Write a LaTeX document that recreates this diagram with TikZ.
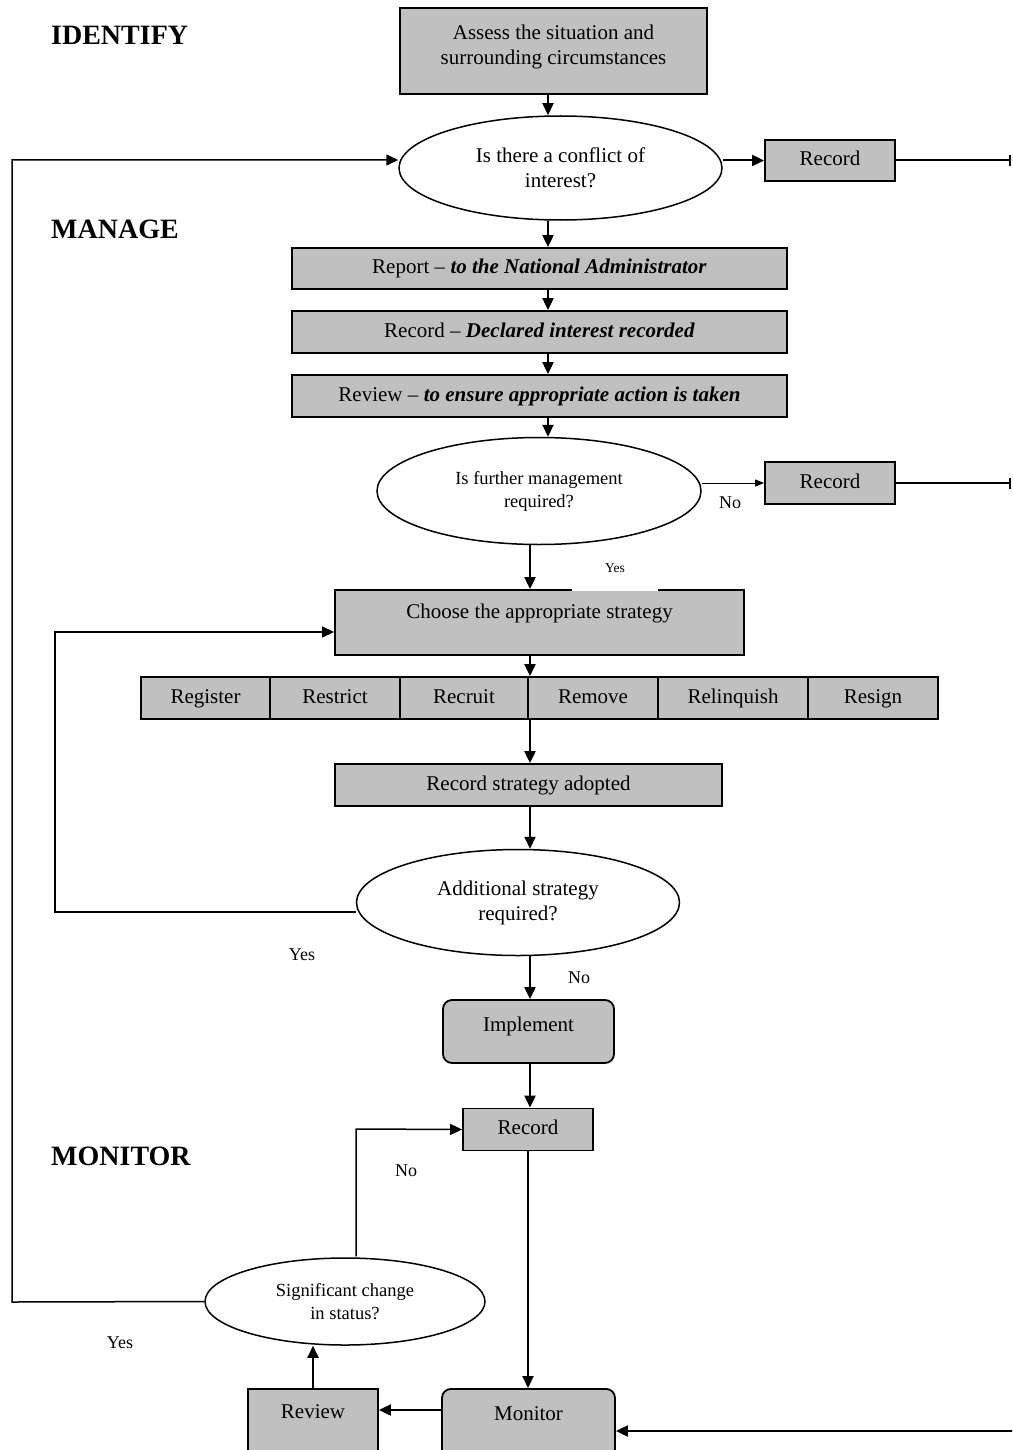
\documentclass[tikz,border=0pt]{standalone}
\usepackage{fontspec}
\setmainfont{Liberation Serif}
\usetikzlibrary{shapes.geometric,arrows.meta}
\definecolor{boxgray}{RGB}{192,192,192}
\begin{document}
\begin{tikzpicture}[x=1pt,y=-1pt,
  box/.style={draw,line width=1.8pt,fill=boxgray,inner sep=0pt,align=center,text height=15pt,text depth=5pt,font=\fontsize{21}{25}\selectfont},
  rbox/.style={box,rounded corners=9pt},
  oval/.style={ellipse,draw,line width=1.5pt,fill=white,inner sep=0pt,align=center,font=\fontsize{21}{25}\selectfont},
  txt/.style={inner sep=0pt,align=center,font=\fontsize{21}{25}\selectfont},
  arr/.style={line width=2pt,-{Triangle[length=12pt,width=11pt]}},
  thinarr/.style={line width=1pt,-{Triangle[length=9pt,width=7pt]}},
  loop/.style={line width=1.5pt,-{Triangle[length=12pt,width=11pt]}},
  barend/.style={line width=2pt,-{Bar[width=11pt,line width=2.2pt]}},
  lbl/.style={inner sep=0pt,font=\fontsize{18}{22}\selectfont},
  head/.style={inner sep=0pt,anchor=west,font=\fontsize{28}{32}\selectfont\bfseries}
]
\useasboundingbox (0,0) rectangle (1012,1450);
\clip (0,0) rectangle (1012,1450);

% column coordinates
\coordinate (cA) at (548,0);
\coordinate (cB) at (530,0);
\coordinate (cC) at (528,0);

% headings
\node[head] (hid) at (51,35) {IDENTIFY};
\node[head] (hma) at (51,229) {MANAGE};
\node[head] (hmo) at (51,1156) {MONITOR};

% IDENTIFY
\node[box,minimum width=307pt,minimum height=86pt] (assess) at (553.5,51) {};
\node[txt] (assesst) at (553.5,47) {Assess the situation and\\surrounding circumstances};
\node[oval,minimum width=323pt,minimum height=104pt] (e1) at (560.5,168) {Is there a conflict of\\interest?};
\node[box,minimum width=130pt,minimum height=41pt] (rec1) at (830,160.5) {Record};

% MANAGE
\node[box,minimum width=495pt,minimum height=41pt] (report) at (539.5,268.5) {Report -- \textbf{\textit{to the National Administrator}}};
\node[box,minimum width=495pt,minimum height=42pt] (recd) at (539.5,332) {Record -- \textbf{\textit{Declared interest recorded}}};
\node[box,minimum width=495pt,minimum height=42pt] (revw) at (539.5,396) {Review -- \textbf{\textit{to ensure appropriate action is taken}}};
\node[oval,minimum width=324pt,minimum height=107pt,font=\fontsize{18.5}{23}\selectfont] (e2) at (539,491) {Is further management\\required?};
\node[box,minimum width=130pt,minimum height=42pt] (rec2) at (830,483) {Record};

\node[box,minimum width=409pt,minimum height=65pt] (choose) at (539.5,622.5) {};
\node[txt] (chooset) at (539.5,613) {Choose the appropriate strategy};
\node[inner sep=0pt,fill=white,minimum width=86pt,minimum height=46pt,font=\fontsize{13.5}{16}\selectfont] (yes1) at (615,568) {Yes};

\node[box,minimum width=129pt,minimum height=42pt] (s1) at (205.5,698) {Register};
\node[box,minimum width=130pt,minimum height=42pt] (s2) at (335,698) {Restrict};
\node[box,minimum width=128pt,minimum height=42pt] (s3) at (464,698) {Recruit};
\node[box,minimum width=130pt,minimum height=42pt] (s4) at (593,698) {Remove};
\node[box,minimum width=150pt,minimum height=42pt] (s5) at (733,698) {Relinquish};
\node[box,minimum width=130pt,minimum height=42pt] (s6) at (873,698) {Resign};

\node[box,minimum width=387pt,minimum height=42pt] (rsa) at (528.5,785) {Record strategy adopted};
\node[oval,minimum width=323pt,minimum height=106pt] (e3) at (518,902.5) {Additional strategy\\required?};
\node[rbox,minimum width=171pt,minimum height=63pt] (impl) at (528.5,1031.5) {};
\node[txt] (implt) at (528.5,1026) {Implement};

% MONITOR
\node[box,minimum width=130pt,minimum height=42pt] (rec3) at (528,1129.5) {Record};
\node[oval,minimum width=280pt,minimum height=87pt,font=\fontsize{18.5}{23}\selectfont] (e4) at (345,1301.5) {Significant change\\in status?};
\node[box,anchor=north,minimum width=130pt,minimum height=92pt] (review) at (313,1388) {};
\node[txt] (reviewt) at (313,1412) {Review};
\node[rbox,anchor=north,minimum width=173pt,minimum height=92pt] (monitor) at (528.5,1388) {};
\node[txt] (monitort) at (528.5,1414) {Monitor};

% labels
\node[lbl] (no2) at (730,503) {No};
\node[lbl] (yes3) at (302,955) {Yes};
\node[lbl] (no3) at (579,978) {No};
\node[lbl] (no4) at (406,1171) {No};
\node[lbl] (yes4) at (120,1343) {Yes};

% helper coordinates
\coordinate (L1) at (12,160);
\coordinate (L2) at (12,1302);
\coordinate (M1) at (55,632);
\coordinate (M2) at (55,912);
\coordinate (N1) at (356,1129);
\coordinate (cN) at (356,0);
\coordinate (cR) at (313,0);
\coordinate (E1) at (1011,160.5);
\coordinate (E2) at (1011,483);
\coordinate (BR) at (1013,1431);
\coordinate (MR) at (0,1410);

% connectors
\draw[arr] (assess.south -| cA) -- (e1.north -| cA);
\draw[arr] (rec1.west -| e1.east) -- (rec1.west);
\draw[barend] (rec1.east) -- (E1);
\draw[arr] (e1.south -| cA) -- (report.north -| cA);
\draw[arr] (report.south -| cA) -- (recd.north -| cA);
\draw[arr] (recd.south -| cA) -- (revw.north -| cA);
\draw[arr] (revw.south -| cA) -- (e2.north -| cA);
\draw[thinarr] (rec2.west -| e2.east) -- (rec2.west);
\draw[barend] (rec2.east) -- (E2);
\draw[arr] (e2.south -| cB) -- (choose.north -| cB);
\draw[arr] (choose.south -| cB) -- (s4.north -| cB);
\draw[arr] (s4.south -| cB) -- (rsa.north -| cB);
\draw[arr] (rsa.south -| cB) -- (e3.north -| cB);
\draw[loop] (M2 -| e3.west) -- (M2) -- (M1) -- (M1 -| choose.west);
\draw[arr] (e3.south -| cB) -- (impl.north -| cB);
\draw[arr] (impl.south -| cB) -- (rec3.north -| cB);
\draw[arr] (rec3.south -| cC) -- (monitor.north -| cC);
\draw[arr] (MR -| monitor.west) -- (MR -| review.east);
\draw[arr] (review.north -| cR) -- (e4.south -| cR);
\draw[loop] ([yshift=0.8pt]e4.north -| cN) -- (N1) -- (rec3.west);
\draw[loop] (e4.west) -- (L2) -- (L1) -- (L1 -| e1.west);
\draw[arr] (BR) -- (BR -| monitor.east);
\end{tikzpicture}
\end{document}
